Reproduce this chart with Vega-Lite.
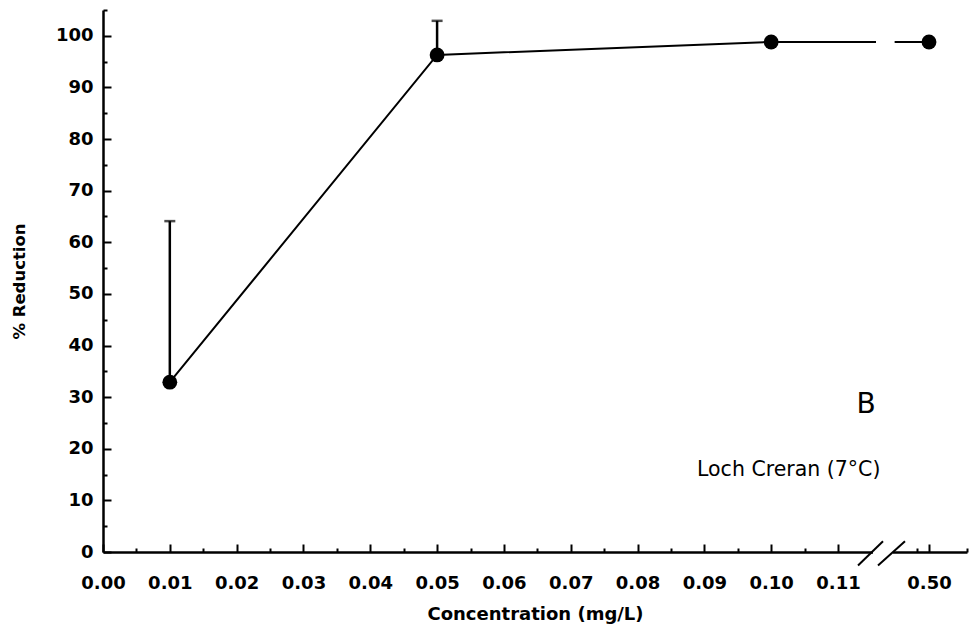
{
  "$schema": "https://vega.github.io/schema/vega-lite/v6.json",
  "width": 864,
  "height": 542,
  "autosize": "none",
  "padding": {"left": 103, "top": 10, "right": 10, "bottom": 80},
  "background": "white",
  "config": {
    "view": {"stroke": null},
    "axis": {
      "domainColor": "black",
      "domainWidth": 2.5,
      "tickColor": "black",
      "tickWidth": 2,
      "labelColor": "black",
      "labelFont": "DejaVu Sans",
      "labelFontWeight": "bold",
      "labelFontSize": 18,
      "labelFlush": false,
      "labelOverlap": false,
      "titleColor": "black",
      "titleFont": "DejaVu Sans",
      "titleFontWeight": "bold",
      "titleFontSize": 18,
      "grid": false
    }
  },
  "datasets": {
    "obs": [
      {"conc": 0.01, "pct": 32.9, "upper": 64.1},
      {"conc": 0.05, "pct": 96.3, "upper": 102.9},
      {"conc": 0.10, "pct": 98.8},
      {"conc": 0.50, "pct": 98.8}
    ],
    "breakMarks": [
      {"x": 0.2075, "x2": 0.3293, "y": -2.6, "y2": 2.1},
      {"x": 0.3049, "x2": 0.4365, "y": -2.6, "y2": 2.1}
    ],
    "gaps": [
      {"x": 0.2806, "x2": 0.3780, "y": -0.8, "y2": 0.8},
      {"x": 0.2952, "x2": 0.3860, "y": 97.6, "y2": 100.0}
    ],
    "notes": [
      {"x": 0.2464, "y": 28.4, "label": "B", "kind": "panel"},
      {"x": 0.0889, "y": 14.7, "label": "Loch Creran (7°C)", "kind": "site"}
    ]
  },
  "encoding": {
    "x": {
      "field": "conc",
      "type": "quantitative",
      "title": "Concentration (mg/L)",
      "scale": {
        "domain": [0, 0.11, 0.495, 0.5, 0.5057],
        "range": [0, 735, 814, 826, 864],
        "nice": false,
        "zero": false
      },
      "axis": {
        "values": [0, 0.005, 0.01, 0.015, 0.02, 0.025, 0.03, 0.035, 0.04, 0.045, 0.05, 0.055, 0.06, 0.065, 0.07, 0.075, 0.08, 0.085, 0.09, 0.095, 0.1, 0.105, 0.11, 0.495, 0.5, 0.5057],
        "labelExpr": "round(datum.value * 1000) % 10 == 0 ? format(datum.value, '.2f') : ''",
        "tickSize": {"condition": {"test": "round(datum.value * 1000) % 10 != 0", "value": -4}, "value": -8},
        "labelPadding": 30,
        "titlePadding": 9
      }
    },
    "y": {
      "field": "pct",
      "type": "quantitative",
      "title": "% Reduction",
      "scale": {"domain": [0, 105], "nice": false, "zero": false},
      "axis": {
        "values": [0, 5, 10, 15, 20, 25, 30, 35, 40, 45, 50, 55, 60, 65, 70, 75, 80, 85, 90, 95, 100, 105],
        "labelExpr": "datum.value % 10 == 0 ? format(datum.value, 'd') : ''",
        "tickSize": {"condition": {"test": "datum.value % 10 != 0", "value": -4}, "value": -8},
        "labelPadding": 18,
        "titlePadding": 28,
        "titleFontSize": 16.5
      }
    }
  },
  "layer": [
    {
      "data": {"name": "obs"},
      "mark": {"type": "line", "color": "black", "strokeWidth": 2},
      "encoding": {}
    },
    {
      "data": {"name": "obs"},
      "transform": [{"filter": "isValid(datum.upper)"}],
      "mark": {"type": "rule", "color": "black", "strokeWidth": 2.5},
      "encoding": {"y2": {"field": "upper"}}
    },
    {
      "data": {"name": "obs"},
      "transform": [{"filter": "isValid(datum.upper)"}],
      "mark": {"type": "tick", "color": "black", "thickness": 2.5, "size": 11, "orient": "horizontal"},
      "encoding": {"y": {"field": "upper", "type": "quantitative"}}
    },
    {
      "data": {"name": "obs"},
      "mark": {"type": "point", "filled": true, "color": "black", "opacity": 1, "size": 220},
      "encoding": {}
    },
    {
      "data": {"name": "gaps"},
      "mark": {"type": "rect", "color": "white"},
      "encoding": {
        "x": {"field": "x", "type": "quantitative"},
        "x2": {"field": "x2"},
        "y": {"field": "y", "type": "quantitative"},
        "y2": {"field": "y2"}
      }
    },
    {
      "data": {"name": "breakMarks"},
      "mark": {"type": "rule", "color": "black", "strokeWidth": 2},
      "encoding": {
        "x": {"field": "x", "type": "quantitative"},
        "x2": {"field": "x2"},
        "y": {"field": "y", "type": "quantitative"},
        "y2": {"field": "y2"}
      }
    },
    {
      "data": {"name": "notes"},
      "transform": [{"filter": "datum.kind == 'panel'"}],
      "mark": {"type": "text", "font": "DejaVu Sans", "fontSize": 28, "align": "center", "baseline": "middle", "color": "black"},
      "encoding": {
        "x": {"field": "x", "type": "quantitative"},
        "y": {"field": "y", "type": "quantitative"},
        "text": {"field": "label"}
      }
    },
    {
      "data": {"name": "notes"},
      "transform": [{"filter": "datum.kind == 'site'"}],
      "mark": {"type": "text", "font": "DejaVu Sans", "fontSize": 20.5, "align": "left", "baseline": "alphabetic", "color": "black"},
      "encoding": {
        "x": {"field": "x", "type": "quantitative"},
        "y": {"field": "y", "type": "quantitative"},
        "text": {"field": "label"}
      }
    }
  ]
}
